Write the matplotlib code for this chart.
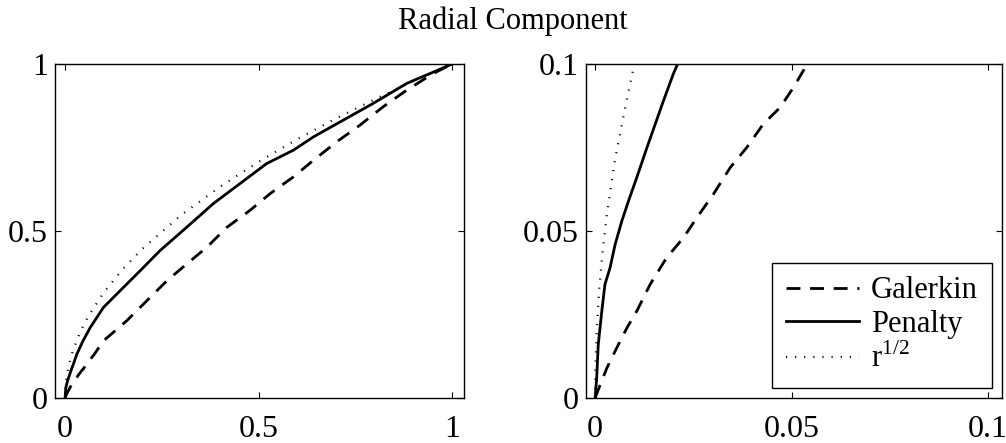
"""
radial component of the solution: Galerkin vs penalty vs r^(1/2),
full range on the left and a zoom near the origin on the right
"""
import matplotlib.pyplot as plt

plt.rcParams["font.family"] = ["Liberation Serif", "DejaVu Serif"]
plt.rcParams["mathtext.fontset"] = "custom"
plt.rcParams["mathtext.rm"] = "Liberation Serif"

# data
r_galerkin = [0, 0.0013, 0.003, 0.0055, 0.0081, 0.0106, 0.014, 0.0182, 0.0225,
              0.0259, 0.0301, 0.0344, 0.0386, 0.0428, 0.0471, 0.0505, 0.054,
              0.075, 0.099, 0.159, 0.211, 0.263, 0.314, 0.366, 0.418, 0.478,
              0.530, 0.590, 0.642, 0.702, 0.762, 0.822, 0.883, 0.952, 1.0]
u_galerkin = [0, 0.004, 0.009, 0.015, 0.021, 0.026, 0.034, 0.042, 0.048,
              0.054, 0.061, 0.069, 0.075, 0.082, 0.087, 0.093, 0.100,
              0.130, 0.171, 0.231, 0.291, 0.351, 0.401, 0.451, 0.511, 0.562,
              0.612, 0.662, 0.712, 0.767, 0.817, 0.872, 0.922, 0.972, 1.0]

r_penalty = [0, 0.0004, 0.0008, 0.0017, 0.0025, 0.0038, 0.0051, 0.0068, 0.0085,
             0.0106, 0.0132, 0.0153, 0.0174, 0.0199, 0.021, 0.030, 0.045,
             0.065, 0.099, 0.142, 0.194, 0.245, 0.314, 0.383, 0.452, 0.521,
             0.590, 0.642, 0.719, 0.796, 0.883, 0.95, 1.0]
u_penalty = [0, 0.006, 0.016, 0.026, 0.034, 0.039, 0.046, 0.053, 0.059,
             0.066, 0.075, 0.082, 0.089, 0.097, 0.100, 0.130, 0.168,
             0.211, 0.271, 0.321, 0.381, 0.441, 0.511, 0.582, 0.642, 0.702,
             0.742, 0.782, 0.832, 0.882, 0.942, 0.975, 1.0]

r_sqrt = [0, 0.0001, 0.0002, 0.0005, 0.001, 0.002, 0.003, 0.004, 0.005, 0.006,
          0.008, 0.01, 0.02, 0.04, 0.06, 0.1, 0.15, 0.2, 0.3, 0.4, 0.5, 0.6,
          0.7, 0.8, 0.9, 1.0]
u_sqrt = [0, 0.010, 0.014, 0.022, 0.032, 0.045, 0.055, 0.063, 0.071, 0.077,
          0.089, 0.100, 0.141, 0.200, 0.245, 0.316, 0.387, 0.447, 0.548, 0.632,
          0.707, 0.775, 0.837, 0.894, 0.949, 1.0]

fig = plt.figure(figsize=(10.06, 4.43), dpi=100)
ax1 = fig.add_axes([0.0547, 0.1016, 0.4066, 0.7539])
ax2 = fig.add_axes([0.5822, 0.1016, 0.4135, 0.7539])

for ax in (ax1, ax2):
    ax.plot(r_galerkin, u_galerkin, color="black", lw=2.0, dashes=(5, 3.5),
            label="Galerkin")
    ax.plot(r_penalty, u_penalty, color="black", lw=2.0, label="Penalty")
    ax.plot(r_sqrt, u_sqrt, color="black", lw=1.6, dashes=(0.5, 3.6),
            label=r"r$^{1/2}$")
    ax.tick_params(direction="in", top=True, right=True, length=4,
                   labelsize=23)
    ax.tick_params(axis="x", pad=12)
    ax.tick_params(axis="y", pad=5)
    for s in ax.spines.values():
        s.set_linewidth(1.0)

ax1.set_xlim(-0.026, 1.031)
ax1.set_ylim(0, 1)
ax1.set_xticks([0, 0.5, 1])
ax1.set_xticklabels(["0", "0.5", "1"])
ax1.set_yticks([0, 0.5, 1])
ax1.set_yticklabels(["0", "0.5", "1"])

ax2.set_xlim(-0.0024, 0.1035)
ax2.set_ylim(0, 0.1)
ax2.set_xticks([0, 0.05, 0.1])
ax2.set_xticklabels(["0", "0.05", "0.1"])
ax2.set_yticks([0, 0.05, 0.1])
ax2.set_yticklabels(["0", "0.05", "0.1"])

leg = ax2.legend(loc="lower right", bbox_to_anchor=(0.976, 0.03),
                 borderaxespad=0, fontsize=22, fancybox=False,
                 edgecolor="black", framealpha=1, handlelength=2.4,
                 handletextpad=0.4, labelspacing=0.15, borderpad=0.45)
leg.get_frame().set_linewidth(1.0)

fig.suptitle("Radial Component", x=0.51, y=0.985, fontsize=22)

plt.savefig("out.png", dpi=100)
